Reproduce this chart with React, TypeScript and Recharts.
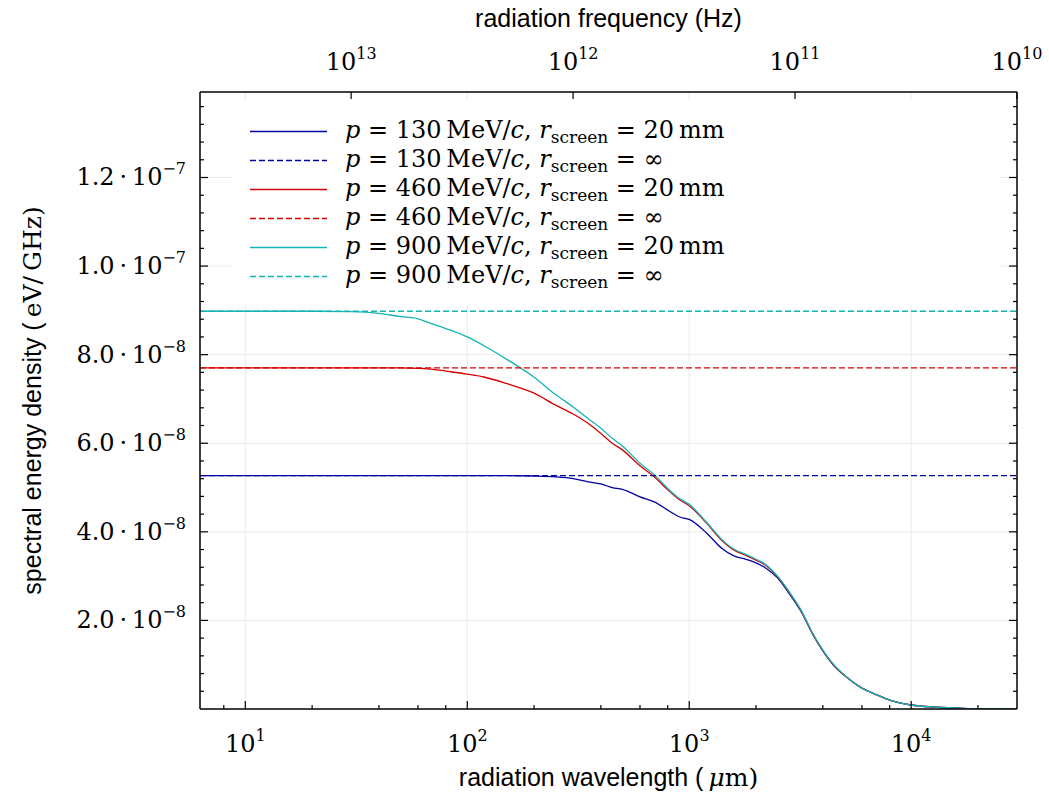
import React from 'react';
import { LineChart, Line, XAxis, YAxis, ReferenceLine, Legend, Label } from 'recharts';

const SERIF = '"DejaVu Serif", "Liberation Serif", serif';
const SANS = '"Liberation Sans", "DejaVu Sans", sans-serif';

// radiation wavelength (µm)
const wavelengths = [
  6.25, 10, 20, 30, 40, 50, 60, 70, 80, 100, 120, 150, 200, 250, 300, 350, 400, 450, 500, 600, 700, 800, 900,
  1000, 1200, 1400, 1600, 1800, 2000, 2200, 2500, 2800, 3200, 3600, 4000, 4500, 5000, 6000, 7000, 8000, 10000,
  13000, 17000, 22000, 29979,
];

// spectral energy density, units of 1e-8 eV/GHz, r_screen = 20 mm
const energy130 = [
  5.27, 5.27, 5.27, 5.27, 5.27, 5.27, 5.27, 5.27, 5.27, 5.27, 5.27, 5.27, 5.26, 5.24, 5.2, 5.13, 5.08, 5.0, 4.96,
  4.79, 4.67, 4.49, 4.34, 4.28, 3.97, 3.63, 3.45, 3.38, 3.3, 3.19, 2.96, 2.63, 2.19, 1.69, 1.31, 0.97, 0.76, 0.47,
  0.32, 0.2, 0.09, 0.04, 0.015, 0.005, 0.002,
];
const energy460 = [
  7.7, 7.7, 7.7, 7.7, 7.7, 7.7, 7.69, 7.67, 7.63, 7.56, 7.49, 7.35, 7.13, 6.86, 6.66, 6.45, 6.22, 6.0, 5.85, 5.49,
  5.23, 4.95, 4.73, 4.59, 4.19, 3.81, 3.58, 3.47, 3.36, 3.25, 2.99, 2.66, 2.21, 1.7, 1.32, 0.98, 0.76, 0.47, 0.32,
  0.2, 0.09, 0.04, 0.015, 0.005, 0.002,
];
const energy900 = [
  8.98, 8.98, 8.98, 8.97, 8.93, 8.86, 8.81, 8.69, 8.59, 8.4, 8.19, 7.9, 7.49, 7.1, 6.82, 6.56, 6.34, 6.11, 5.94,
  5.55, 5.28, 4.98, 4.76, 4.62, 4.21, 3.83, 3.6, 3.49, 3.38, 3.27, 3.0, 2.67, 2.22, 1.71, 1.33, 0.99, 0.77, 0.47,
  0.32, 0.2, 0.09, 0.04, 0.015, 0.005, 0.002,
];
// r_screen = infinity (flat levels)
const infinityLevels = [5.27, 7.7, 8.98];

const momenta = ['130', '460', '900'];
const screenRadii = ['20\u2009mm', '\u221e'];
const colors = ['#0000a0', '#d40000', '#14b4b4'];

const xDomain = [6.25, 29979];
const yDomain = [0, 13.93];

const xTicks = [10, 100, 1000, 10000];
const xTickExponents = ['1', '2', '3', '4'];
const xMinorTicks = [8, 20, 40, 60, 80, 200, 400, 600, 800, 2000, 4000, 6000, 8000, 20000];

// wavelength positions of 1e13, 1e12, 1e11, 1e10 Hz
const freqTicks = [29.979, 299.79, 2997.9, 29979];
const freqTickExponents = ['13', '12', '11', '10'];

const yTicks = [2, 4, 6, 8, 10, 12];
const yTickMantissas = ['2.0', '4.0', '6.0', '8.0', '1.0', '1.2'];
const yTickExponents = ['\u22128', '\u22128', '\u22128', '\u22128', '\u22127', '\u22127'];
const yMinorTicks = [
  0.4, 0.8, 1.2, 1.6, 2.4, 2.8, 3.2, 3.6, 4.4, 4.8, 5.2, 5.6, 6.4, 6.8, 7.2, 7.6, 8.4, 8.8, 9.2, 9.6, 10.4, 10.8,
  11.2, 11.6, 12.4, 12.8, 13.2, 13.6,
];

const data = wavelengths.map((lambda, i) => ({
  lambda,
  p130: energy130[i],
  p460: energy460[i],
  p900: energy900[i],
}));
const seriesKeys = ['p130', 'p460', 'p900'];

const allX = [...xTicks, ...xMinorTicks].sort((a, b) => a - b);
const allY = [...yTicks, ...yMinorTicks].sort((a, b) => a - b);

const TICK_FONT = 24;
const SUP_FONT = 16;
const TITLE_FONT = 25;

const BottomTick = (props: any) => {
  const { x, y, payload } = props;
  const i = xTicks.indexOf(payload.value);
  return (
    <g>
      <line x1={x} x2={x} y1={y} y2={y - (i >= 0 ? 8 : 4)} stroke="#000" strokeWidth={1.2} />
      {i >= 0 && (
        <text x={x} y={y + 43} textAnchor="middle" fontFamily={SERIF} fontSize={TICK_FONT} fill="#000">
          10
          <tspan dy={-11} fontSize={SUP_FONT}>
            {xTickExponents[i]}
          </tspan>
        </text>
      )}
    </g>
  );
};

const TopTick = (props: any) => {
  const { x, y, payload } = props;
  const i = freqTicks.indexOf(payload.value);
  return (
    <g>
      <line x1={x} x2={x} y1={y} y2={y + 7} stroke="#000" strokeWidth={1.2} />
      <text x={x} y={y - 22} textAnchor="middle" fontFamily={SERIF} fontSize={TICK_FONT} fill="#000">
        10
        <tspan dy={-11} fontSize={SUP_FONT}>
          {freqTickExponents[i]}
        </tspan>
      </text>
    </g>
  );
};

const LeftTick = (props: any) => {
  const { x, y, payload } = props;
  const i = yTicks.indexOf(payload.value);
  return (
    <g>
      <line x1={x} x2={x + (i >= 0 ? 8 : 4)} y1={y} y2={y} stroke="#000" strokeWidth={1.2} />
      {i >= 0 && (
        <text x={x - 14} y={y + 8} textAnchor="end" fontFamily={SERIF} fontSize={TICK_FONT} fill="#000">
          {yTickMantissas[i]}
          {'\u2009\u00b7\u200910'}
          <tspan dy={-11} fontSize={SUP_FONT}>
            {yTickExponents[i]}
          </tspan>
        </text>
      )}
    </g>
  );
};

const RightTick = (props: any) => {
  const { x, y, payload } = props;
  const major = yTicks.includes(payload.value);
  return <line x1={x} x2={x - (major ? 8 : 4)} y1={y} y2={y} stroke="#000" strokeWidth={1.2} />;
};

const LegendBox = () => {
  const rows = momenta.flatMap((p, i) =>
    screenRadii.map((r, j) => ({ p, r, color: colors[i], dashed: j === 1 }))
  );
  return (
    <div style={{ background: '#fff', width: '100%', height: '100%', paddingTop: 17, boxSizing: 'border-box' }}>
      {rows.map((row, k) => (
        <div key={k} style={{ display: 'flex', alignItems: 'center', height: 29 }}>
          <svg width={77} height={29} style={{ marginLeft: 17, flexShrink: 0 }}>
            <line
              x1={0}
              x2={77}
              y1={14.5}
              y2={14.5}
              stroke={row.color}
              strokeWidth={1.3}
              strokeDasharray={row.dashed ? '6 3' : undefined}
            />
          </svg>
          <span
            style={{
              marginLeft: 18,
              fontFamily: SERIF,
              fontSize: 24,
              whiteSpace: 'nowrap',
              color: '#000',
              lineHeight: '29px',
            }}
          >
            <i>p</i> = {row.p}&thinsp;MeV/<i>c</i>, <i>r</i>
            <span style={{ fontSize: 17, position: 'relative', top: 5 }}>screen</span> = {row.r}
          </span>
        </div>
      ))}
    </div>
  );
};

export default function App() {
  return (
    <div style={{ position: 'absolute', left: 0, top: 0 }}>
      <LineChart width={1049} height={800} data={data} margin={{ top: 91, right: 31, bottom: 90, left: 199 }}>
        {xTicks.map((t) => (
          <ReferenceLine key={`gx${t}`} xAxisId="main" yAxisId="main" x={t} stroke="#ebebeb" strokeWidth={1} />
        ))}
        {yTicks.map((t) => (
          <ReferenceLine key={`gy${t}`} xAxisId="main" yAxisId="main" y={t} stroke="#ebebeb" strokeWidth={1} />
        ))}
        <XAxis
          xAxisId="main"
          dataKey="lambda"
          type="number"
          scale="log"
          domain={xDomain}
          allowDataOverflow
          ticks={allX}
          interval={0}
          height={1}
          tickSize={0}
          tickMargin={0}
          tickLine={false}
          axisLine={{ stroke: '#000', strokeWidth: 1.5 }}
          tick={(p: any) => <BottomTick {...p} />}
        >
          <Label
            content={(lp: any) => {
              const vb = lp.viewBox;
              return (
                <text x={vb.x + vb.width / 2} y={vb.y + 77} textAnchor="middle" fontSize={TITLE_FONT} fill="#000">
                  <tspan fontFamily={SANS}>radiation wavelength (</tspan>
                  <tspan fontFamily={SERIF} fontStyle="italic" fontSize={25}>
                    {'\u2009\u03bc'}
                  </tspan>
                  <tspan fontFamily={SERIF} fontSize={25}>
                    m)
                  </tspan>
                </text>
              );
            }}
          />
        </XAxis>
        <XAxis
          xAxisId="top"
          orientation="top"
          dataKey="lambda"
          type="number"
          scale="log"
          domain={xDomain}
          allowDataOverflow
          ticks={freqTicks}
          interval={0}
          height={1}
          tickSize={0}
          tickMargin={0}
          tickLine={false}
          axisLine={{ stroke: '#000', strokeWidth: 1.5 }}
          tick={(p: any) => <TopTick {...p} />}
        >
          <Label
            content={(lp: any) => {
              const vb = lp.viewBox;
              return (
                <text
                  x={vb.x + vb.width / 2}
                  y={27}
                  textAnchor="middle"
                  fontFamily={SANS}
                  fontSize={TITLE_FONT}
                  fill="#000"
                >
                  radiation frequency (Hz)
                </text>
              );
            }}
          />
        </XAxis>
        <YAxis
          yAxisId="main"
          type="number"
          domain={yDomain}
          allowDataOverflow
          ticks={allY}
          interval={0}
          width={1}
          tickSize={0}
          tickMargin={0}
          tickLine={false}
          axisLine={{ stroke: '#000', strokeWidth: 1.5 }}
          tick={(p: any) => <LeftTick {...p} />}
        >
          <Label
            content={(lp: any) => {
              const vb = lp.viewBox;
              const cy = vb.y + vb.height / 2;
              return (
                <text
                  x={41}
                  y={cy}
                  transform={`rotate(-90, 41, ${cy})`}
                  textAnchor="middle"
                  fontSize={TITLE_FONT}
                  fill="#000"
                >
                  <tspan fontFamily={SANS}>spectral energy density (</tspan>
                  <tspan fontFamily={SERIF} fontSize={25}>
                    {'\u2009eV/\u2009GHz)'}
                  </tspan>
                </text>
              );
            }}
          />
        </YAxis>
        <YAxis
          yAxisId="right"
          orientation="right"
          type="number"
          domain={yDomain}
          allowDataOverflow
          ticks={allY}
          interval={0}
          width={1}
          tickSize={0}
          tickMargin={0}
          tickLine={false}
          axisLine={{ stroke: '#000', strokeWidth: 1.5 }}
          tick={(p: any) => <RightTick {...p} />}
        />
        {seriesKeys.map((key, i) => (
          <Line
            key={key}
            xAxisId="main"
            yAxisId="main"
            dataKey={key}
            type="monotone"
            stroke={colors[i]}
            strokeWidth={1.3}
            dot={false}
            activeDot={false}
            isAnimationActive={false}
          />
        ))}
        {infinityLevels.map((level, i) => (
          <ReferenceLine
            key={`inf${i}`}
            xAxisId="main"
            yAxisId="main"
            y={level}
            stroke={colors[i]}
            strokeWidth={1.3}
            strokeDasharray="6 3"
          />
        ))}
        <Legend
          layout="horizontal"
          verticalAlign="middle"
          align="center"
          wrapperStyle={{ left: 233, top: 100, width: 767, height: 205 }}
          content={() => <LegendBox />}
        />
      </LineChart>
    </div>
  );
}
